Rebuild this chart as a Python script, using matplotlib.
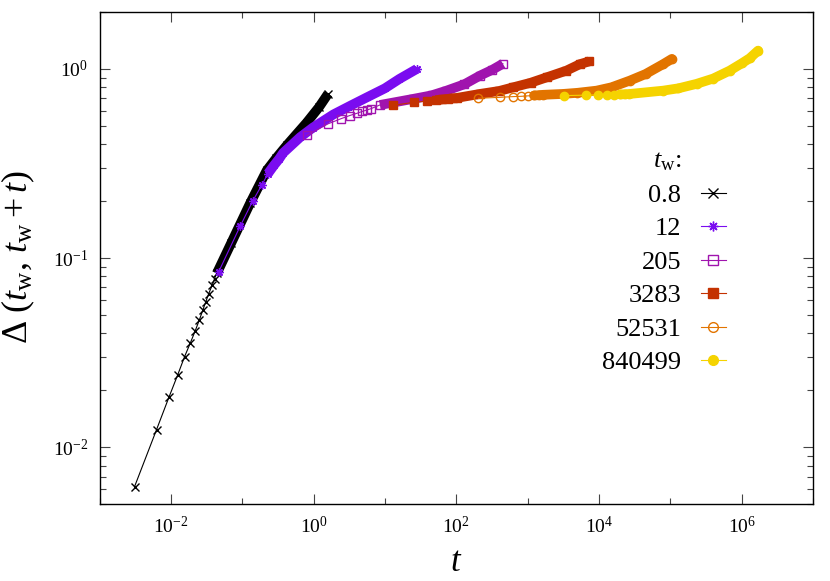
"""Aging curves Delta(t_w, t_w + t) versus t for several waiting times."""

import matplotlib

matplotlib.use("Agg", force=True)

import matplotlib.pyplot as plt
from matplotlib.lines import Line2D
from matplotlib.ticker import LogLocator, NullFormatter

# waiting times (legend labels)
tw_labels = ["0.8", "12", "205", "3283", "52531", "840499"]

# t and Delta, one pair of lists per waiting time
t_08 = [0.0031, 0.0063, 0.0094, 0.0125, 0.0156, 0.0188, 0.0219, 0.025,
        0.028, 0.031, 0.034, 0.038, 0.041, 0.044, 0.07, 0.129, 0.221, 0.3,
        0.422, 0.8, 1.2, 1.6]
d_08 = [0.0062, 0.0124, 0.0184, 0.0242, 0.0302, 0.0357, 0.0412, 0.047,
        0.053, 0.059, 0.065, 0.072, 0.078, 0.083, 0.12, 0.195, 0.291, 0.338,
        0.395, 0.52, 0.63, 0.74]

t_12 = [0.047, 0.094, 0.14, 0.19, 0.23, 0.28, 0.33, 0.375, 0.65, 0.98,
        1.9, 3.3, 5.6, 10, 16, 28]
d_12 = [0.085, 0.148, 0.2, 0.245, 0.28, 0.31, 0.335, 0.36, 0.436, 0.49,
        0.575, 0.64, 0.708, 0.79, 0.886, 1.0]

t_205 = [0.8, 1.6, 2.4, 3.2, 4.0, 4.8, 5.6, 6.4, 8.5, 25, 45, 73, 130, 215,
         320, 450]
d_205 = [0.445, 0.513, 0.545, 0.567, 0.582, 0.596, 0.607, 0.617, 0.645,
         0.695, 0.725, 0.768, 0.83, 0.922, 0.99, 1.066]

t_3283 = [12.8, 25.6, 38.4, 51.2, 64, 77, 90, 102, 215, 400, 630, 1100,
          1850, 3500, 5400, 7300]
d_3283 = [0.641, 0.667, 0.675, 0.684, 0.69, 0.695, 0.70, 0.703, 0.738,
          0.765, 0.80, 0.845, 0.903, 0.98, 1.06, 1.096]

t_52531 = [205, 410, 615, 820, 1026, 1231, 1436, 1641, 3150, 5000, 9250,
           15000, 27100, 45000, 79300, 105000]
d_52531 = [0.70, 0.708, 0.714, 0.717, 0.721, 0.724, 0.727, 0.73, 0.738,
           0.748, 0.768, 0.80, 0.868, 0.94, 1.06, 1.13]

t_840499 = [3283, 6566, 9850, 13130, 16410, 19700, 22980, 26260, 79300,
            130000, 233000, 400000, 680000, 1000000, 1300000, 1700000]
d_840499 = [0.723, 0.727, 0.729, 0.73, 0.731, 0.733, 0.735, 0.737, 0.768,
            0.79, 0.834, 0.89, 0.98, 1.07, 1.14, 1.25]

series = [(t_08, d_08), (t_12, d_12), (t_205, d_205), (t_3283, d_3283),
          (t_52531, d_52531), (t_840499, d_840499)]

# styling: colour, marker, filled?, index where markers merge into a band
styles = [
    ("#000000", "x", True, 13),
    ("#7a0cf0", (8, 2, 0), True, 4),
    ("#a014ae", "s", False, 8),
    ("#c43200", "s", True, 3),
    ("#e27400", "o", False, 5),
    ("#f5d300", "o", True, 5),
]

plt.rcParams["font.family"] = ["Liberation Serif", "DejaVu Serif"]
plt.rcParams["mathtext.fontset"] = "custom"
plt.rcParams["mathtext.rm"] = "Liberation Serif"
plt.rcParams["mathtext.it"] = "Liberation Serif:italic"

fig = plt.figure(figsize=(8.3, 5.81), dpi=100)
ax = fig.add_axes([99.5 / 830, 1 - 504.3 / 581, 713.5 / 830, 492.3 / 581])

handles = [Line2D([], [], linestyle="none")]
labels = [r"$t_\mathrm{w}$:"]
for (t, d), (color, marker, filled, dense), label in zip(series, styles, tw_labels):
    face = color if filled else "none"
    ax.plot(t, d, color=color, linewidth=0.8, marker=marker, markersize=6,
            markerfacecolor=face, markeredgecolor=color, markeredgewidth=1.0)
    ax.plot(t[dense:], d[dense:], color=color, linewidth=7,
            solid_capstyle="round" if marker == "o" else "butt",
            solid_joinstyle="round")
    handles.append(Line2D([], [], color=color, linewidth=0.8, marker=marker,
                          markersize=7, markerfacecolor=face,
                          markeredgecolor=color, markeredgewidth=1.0))
    labels.append(label)

ax.set_xscale("log")
ax.set_yscale("log")
ax.set_xlim(1e-3, 1e7)
ax.set_ylim(0.005, 2)

ax.xaxis.set_major_locator(LogLocator(base=100))
ax.xaxis.set_minor_locator(LogLocator(base=10, subs=(1.0,), numticks=20))
ax.xaxis.set_minor_formatter(NullFormatter())
ax.yaxis.set_major_locator(LogLocator(base=10))
ax.yaxis.set_minor_locator(LogLocator(base=10, subs=range(2, 10), numticks=20))
ax.yaxis.set_minor_formatter(NullFormatter())
ax.tick_params(which="both", direction="in", top=True, right=True,
               labelsize=14, color="#444444")
ax.tick_params(which="major", length=7, width=0.8, pad=8)
ax.tick_params(which="minor", length=4, width=0.8)
for spine in ax.spines.values():
    spine.set_linewidth(1.0)

ax.set_xlabel(r"$t$", fontsize=25, labelpad=7)
ax.set_ylabel(r"$\Delta\ (t_\mathrm{w},\, t_\mathrm{w} + t)$", fontsize=26)
ax.yaxis.set_label_coords(-0.087, 0.503)

ax.legend(handles, labels, loc="upper right", bbox_to_anchor=(0.878, 0.721),
          frameon=False, markerfirst=False, fontsize=19, handlelength=0.95,
          handletextpad=0.75, labelspacing=0.38, borderpad=0, borderaxespad=0)

fig.savefig("out.png", dpi=100)
